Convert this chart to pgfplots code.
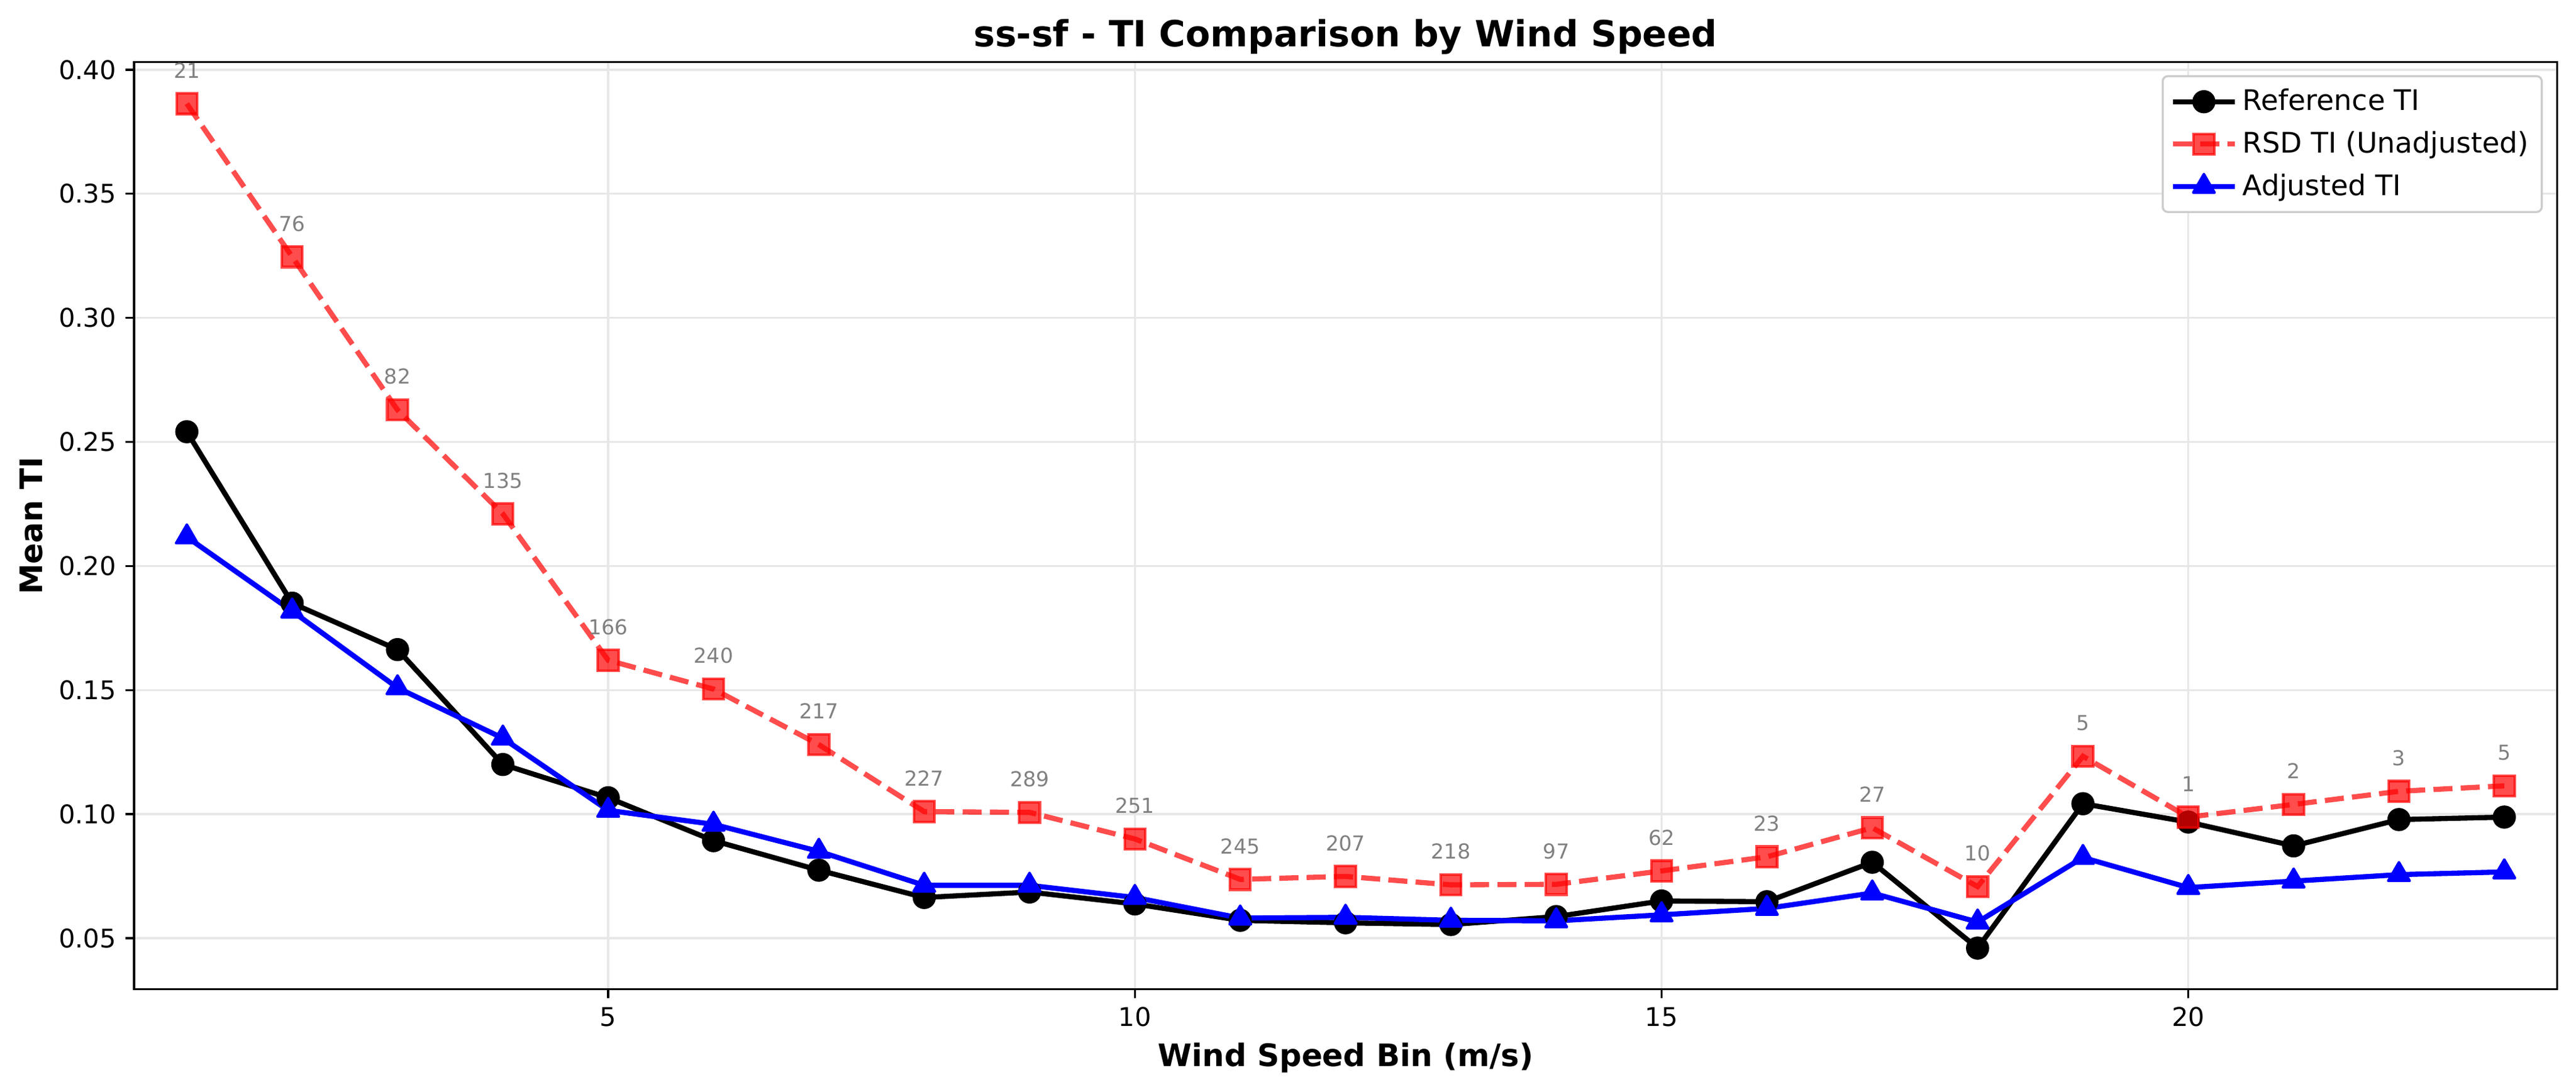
\documentclass[border=0pt]{standalone}
\usepackage{fontspec}
\setmainfont{DejaVu Sans}
\usepackage{pgfplots}
\usepackage{pgfplotstable}
\pgfplotsset{compat=1.18}

\definecolor{gridgray}{RGB}{231,231,231}
\definecolor{legedge}{RGB}{204,204,204}

% bin, reference TI, RSD TI, adjusted TI, sample count
\pgfplotstableread{
x ref rsd adj n
1 0.2541 0.3863 0.2117 21
2 0.1850 0.3246 0.1818 76
3 0.1663 0.2629 0.1509 82
4 0.1200 0.2210 0.1306 135
5 0.1066 0.1620 0.1015 166
6 0.0893 0.1504 0.0959 240
7 0.0774 0.1280 0.0850 217
8 0.0664 0.1010 0.0713 227
9 0.0686 0.1007 0.0713 289
10 0.0638 0.0900 0.0664 251
11 0.0572 0.0737 0.0581 245
12 0.0562 0.0749 0.0584 207
13 0.0555 0.0715 0.0572 218
14 0.0587 0.0717 0.0570 97
15 0.0650 0.0771 0.0594 62
16 0.0647 0.0828 0.0620 23
17 0.0806 0.0945 0.0682 27
18 0.0460 0.0708 0.0565 10
19 0.1042 0.1233 0.0825 5
20 0.0968 0.0988 0.0704 1
21 0.0872 0.1039 0.0730 2
22 0.0978 0.1092 0.0756 3
23 0.0988 0.1114 0.0767 5
}\tidata

\begin{document}
\begin{tikzpicture}
\useasboundingbox (-52.1pt,-39.8pt) rectangle (948.2pt,384.4pt);
\begin{axis}[
    at={(0,0)}, anchor=south west,
    scale only axis,
    width=940.8pt, height=360.2pt,
    xmin=0.5, xmax=23.5,
    ymin=0.0294, ymax=0.403,
    xtick={5,10,15,20},
    ytick={0.05,0.10,0.15,0.20,0.25,0.30,0.35,0.40},
    yticklabel style={/pgf/number format/.cd, fixed, fixed zerofill, precision=2},
    /pgf/number format/assume math mode=true,
    tick label style={font=\fontsize{10}{12}\selectfont},
    xtick pos=bottom, ytick pos=left,
    tick align=outside,
    major tick length=3.5pt,
    every tick/.style={black, line width=0.8pt},
    axis line style={line width=0.8pt},
    grid=major,
    major grid style={gridgray, line width=0.8pt},
    title={ss-sf - TI Comparison by Wind Speed},
    title style={font=\fontsize{14}{17}\selectfont\bfseries, at={(rel axis cs:0.5,1)}, anchor=base, inner sep=0pt},
    xlabel={Wind Speed Bin (m/s)},
    xlabel style={font=\fontsize{12}{14}\selectfont\bfseries, at={(rel axis cs:0.5,0)}, anchor=base, yshift=-30pt, inner sep=0pt},
    ylabel={Mean TI},
    ylabel style={font=\fontsize{12}{14}\selectfont\bfseries, at={(rel axis cs:0,0.5)}, anchor=south, yshift=35.3pt, inner sep=0pt},
    legend style={at={(rel axis cs:1,1)}, anchor=north east, xshift=-5.5pt, yshift=-5pt,
        draw=legedge, line width=0.8pt, rounded corners=2pt,
        font=\fontsize{11}{13}\selectfont, row sep=2.6pt,
        inner xsep=3pt, inner ysep=3pt},
    legend cell align=left,
    legend image code/.code={\draw[mark repeat=2,mark phase=2,#1] plot coordinates {(0pt,0pt) (12pt,0pt) (24pt,0pt)};},
]
\addplot[black, line width=2pt, line join=round, mark=*, mark size=4pt,
    mark options={solid, line width=1pt}] table[x=x, y=ref] {\tidata};
\addlegendentry{Reference TI}
\addplot[red, opacity=0.7, line width=2pt, dash pattern=on 7.4pt off 3.2pt, mark=square*, mark size=4pt,
    mark options={solid, line width=1pt}] table[x=x, y=rsd] {\tidata};
\addlegendentry{RSD TI (Unadjusted)}
\addplot[blue, line width=2pt, line join=round, mark=triangle*, mark size=4.8pt,
    mark options={solid, line width=1pt}] table[x=x, y=adj] {\tidata};
\addlegendentry{Adjusted TI}
\addplot[draw=none, mark=none, forget plot,
    nodes near coords, point meta=explicit symbolic,
    every node near coord/.style={anchor=base, yshift=10pt, inner sep=0pt,
        text=gray, font=\fontsize{8}{10}\selectfont}]
    table[x=x, y=rsd, meta=n] {\tidata};
\end{axis}
\end{tikzpicture}
\end{document}
